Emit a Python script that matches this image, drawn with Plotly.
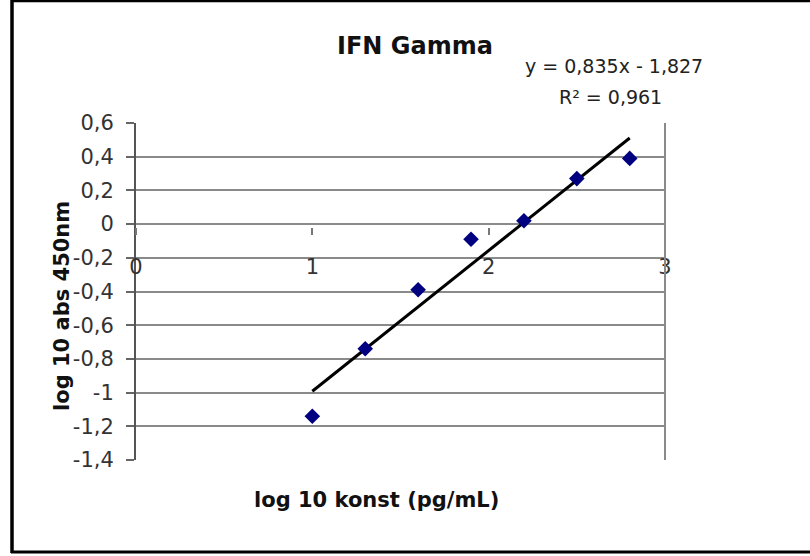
import plotly.graph_objects as go

# ---- data ----
x_log_conc = [1.0, 1.3, 1.6, 1.9, 2.2, 2.5, 2.8]
y_log_abs = [-1.14, -0.74, -0.39, -0.09, 0.02, 0.27, 0.39]

trend_slope = 0.835
trend_intercept = -1.827
trend_x = [1.0, 2.8]

y_tickvals = [0.6, 0.4, 0.2, 0, -0.2, -0.4, -0.6, -0.8, -1, -1.2, -1.4]
y_ticktext = ["0,6", "0,4", "0,2", "0", "-0,2", "-0,4", "-0,6", "-0,8", "-1", "-1,2", "-1,4"]
x_tickvals = [0, 1, 2, 3]
x_ticktext = ["0", "1", "2", "3"]

title_text = "IFN Gamma"
equation_text = "y = 0,835x - 1,827"
r2_text = "R² = 0,961"
x_title = "log 10 konst (pg/mL)"
y_title = "log 10 abs 450nm"

# ---- layout geometry (pixels) ----
W, H = 810, 556
L, R, T, B = 136, 665, 123, 460


def px(x):
    return (x - L) / (R - L)


def py(y):
    return (B - y) / (B - T)


FONT = "DejaVu Sans"

trend_y = [trend_slope * v + trend_intercept for v in trend_x]

fig = go.Figure()
fig.add_trace(go.Scatter(
    x=trend_x, y=trend_y, mode="lines",
    line=dict(color="black", width=3), showlegend=False, hoverinfo="skip"))
fig.add_trace(go.Scatter(
    x=x_log_conc, y=y_log_abs, mode="markers",
    marker=dict(symbol="diamond", size=12, color="#000080"),
    showlegend=False))

fig.update_layout(
    width=W, height=H,
    margin=dict(l=L, r=W - R, t=T, b=H - B, pad=0),
    paper_bgcolor="white", plot_bgcolor="white",
    font=dict(family=FONT, color="#222222"),
    showlegend=False,
    xaxis=dict(
        range=[0, 3], tickvals=x_tickvals, ticktext=x_ticktext,
        showgrid=False, zeroline=False, showline=False,
        anchor="free", position=py(227),
        ticks="outside", ticklen=7, tickwidth=1.5, tickcolor="#777777",
        ticklabelstandoff=14,
        tickfont=dict(family=FONT, size=21, color="#333333"),
    ),
    yaxis=dict(
        range=[-1.4, 0.6], tickvals=y_tickvals, ticktext=y_ticktext,
        showgrid=True, gridcolor="#8a8a8a", gridwidth=2,
        zeroline=False, showline=True, linecolor="#555555", linewidth=2,
        ticks="outside", ticklen=8, tickwidth=2, tickcolor="#666666",
        ticklabelstandoff=8,
        tickfont=dict(family=FONT, size=21, color="#333333"),
    ),
)

# right border of plot area
fig.add_shape(type="line", xref="paper", yref="paper", x0=1, x1=1, y0=0, y1=1,
              line=dict(color="#8a8a8a", width=2))

# outer frame (top, left, bottom)
fig.add_shape(type="line", xref="paper", yref="paper",
              x0=px(12), x1=px(812), y0=py(1), y1=py(1),
              line=dict(color="black", width=2.5))
fig.add_shape(type="line", xref="paper", yref="paper",
              x0=px(12), x1=px(12), y0=py(0), y1=py(553),
              line=dict(color="black", width=3.5))
fig.add_shape(type="line", xref="paper", yref="paper",
              x0=px(11), x1=px(812), y0=py(552), y1=py(552),
              line=dict(color="black", width=3))


def note(text, x, y, size, angle=0, color="#222222"):
    return dict(text=text, xref="paper", yref="paper", x=px(x), y=py(y),
                font=dict(family=FONT, size=size, color=color), textangle=angle,
                xanchor="center", yanchor="middle", showarrow=False)


fig.update_layout(annotations=[
    note("<b>" + title_text + "</b>", 415, 46, 24, color="#111111"),
    note(equation_text, 614, 66, 19),
    note(r2_text, 610, 97, 19),
    note("<b>" + x_title + "</b>", 376, 500, 21, color="#111111"),
    note("<b>" + y_title + "</b>", 62, 306, 21, angle=-90, color="#111111"),
])

fig.write_html("out.html", config={"displayModeBar": False},
               post_script="document.body.style.margin='0';")
